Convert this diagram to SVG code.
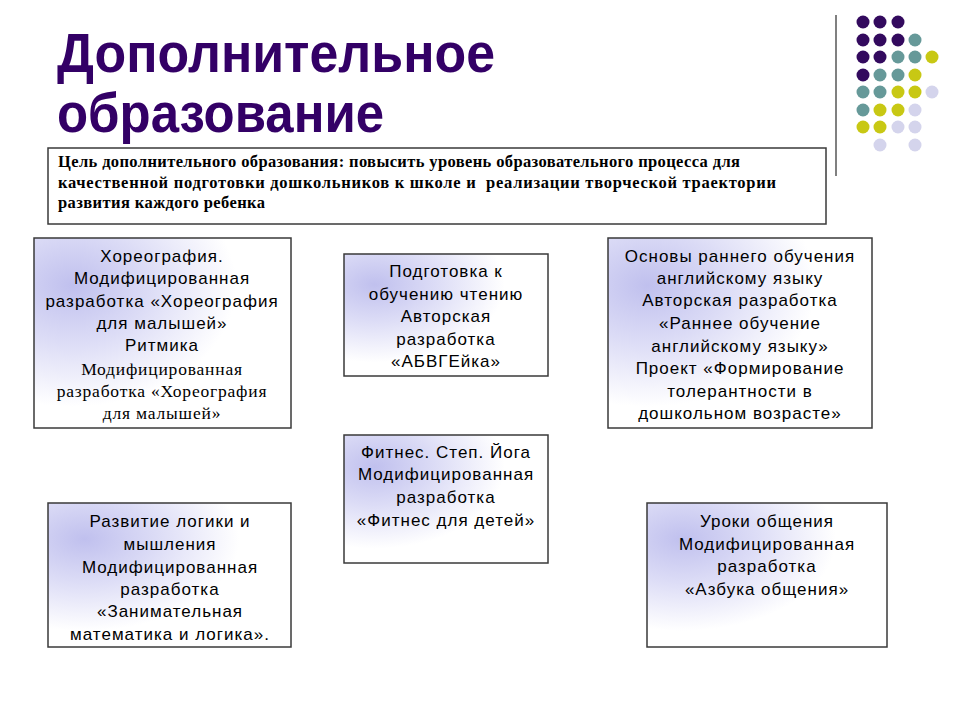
<svg xmlns="http://www.w3.org/2000/svg" width="960" height="720" viewBox="0 0 960 720">
<defs>
<radialGradient id="cloud" cx="0.15" cy="0.25" r="0.85" fx="0.15" fy="0.25">
<stop offset="0" stop-color="#c0c0ee"/>
<stop offset="0.35" stop-color="#dcdcf6"/>
<stop offset="0.75" stop-color="#ffffff"/>
<stop offset="1" stop-color="#ffffff"/>
</radialGradient>
</defs>
<style>
.title{font-family:"Liberation Sans",Arial,sans-serif;font-weight:bold;font-size:56px;fill:#330066}
.goal{font-family:"Liberation Serif","Times New Roman",serif;font-weight:bold;font-size:16.5px;fill:#000}
.box{fill:url(#cloud);stroke:#3a3a3a;stroke-width:1.5}
.plain{fill:#fff;stroke:#3a3a3a;stroke-width:1.5}
.t{font-family:"Liberation Sans",Arial,sans-serif;font-size:17px;letter-spacing:1px;fill:#000;text-anchor:middle}
.ts{font-family:"Liberation Serif","Times New Roman",serif;font-size:17.5px;letter-spacing:0.8px;fill:#000;text-anchor:middle}
.p{fill:#330a5e}.g{fill:#669999}.y{fill:#c8c814}.l{fill:#d4d4ec}
</style>
<rect width="960" height="720" fill="#fff"/>
<g id="decor">
<line x1="836" y1="15" x2="836" y2="176" stroke="#808080" stroke-width="2"/>
<circle class="p" cx="863" cy="22" r="6.5"/><circle class="p" cx="880" cy="22" r="6.5"/><circle class="p" cx="898" cy="22" r="6.5"/>
<circle class="p" cx="863" cy="40" r="6.5"/><circle class="p" cx="880" cy="40" r="6.5"/><circle class="p" cx="898" cy="40" r="6.5"/><circle class="g" cx="915" cy="40" r="6.5"/>
<circle class="p" cx="863" cy="57" r="6.5"/><circle class="p" cx="880" cy="57" r="6.5"/><circle class="g" cx="898" cy="57" r="6.5"/><circle class="g" cx="915" cy="57" r="6.5"/><circle class="y" cx="932" cy="57" r="6.5"/>
<circle class="p" cx="863" cy="75" r="6.5"/><circle class="g" cx="880" cy="75" r="6.5"/><circle class="g" cx="898" cy="75" r="6.5"/><circle class="y" cx="915" cy="75" r="6.5"/>
<circle class="g" cx="863" cy="92" r="6.5"/><circle class="g" cx="880" cy="92" r="6.5"/><circle class="y" cx="898" cy="92" r="6.5"/><circle class="y" cx="915" cy="92" r="6.5"/><circle class="l" cx="932" cy="92" r="6.5"/>
<circle class="g" cx="863" cy="110" r="6.5"/><circle class="y" cx="880" cy="110" r="6.5"/><circle class="y" cx="898" cy="110" r="6.5"/><circle class="l" cx="915" cy="110" r="6.5"/>
<circle class="y" cx="863" cy="127" r="6.5"/><circle class="y" cx="880" cy="127" r="6.5"/><circle class="l" cx="898" cy="127" r="6.5"/><circle class="l" cx="915" cy="127" r="6.5"/>
<circle class="l" cx="880" cy="145" r="6.5"/><circle class="l" cx="915" cy="145" r="6.5"/>
</g>
<g id="title">
<text class="title" x="57" y="72" textLength="438" lengthAdjust="spacingAndGlyphs">Дополнительное</text>
<text class="title" x="57" y="132" textLength="327" lengthAdjust="spacingAndGlyphs">образование</text>
</g>
<g id="goal">
<rect class="plain" x="48" y="148" width="778" height="76"/>
<text class="goal" x="58" y="167" textLength="682">Цель дополнительного образования: повысить уровень образовательного процесса для</text>
<text class="goal" x="58" y="188" textLength="718" xml:space="preserve">качественной подготовки дошкольников к школе и  реализации творческой траектории</text>
<text class="goal" x="58" y="208" textLength="207">развития каждого ребенка</text>
</g>
<g id="choreography">
<rect class="box" x="34" y="238" width="257" height="190"/>
<text class="t" x="162" y="262">Хореография.</text>
<text class="t" x="162" y="284">Модифицированная</text>
<text class="t" x="162" y="307">разработка «Хореография</text>
<text class="t" x="162" y="329">для малышей»</text>
<text class="t" x="162" y="351">Ритмика</text>
<text class="ts" x="162" y="375">Модифицированная</text>
<text class="ts" x="162" y="397">разработка «Хореография</text>
<text class="ts" x="162" y="419">для малышей»</text>
</g>
<g id="reading">
<rect class="box" x="344" y="254" width="204" height="122"/>
<text class="t" x="446" y="277">Подготовка к</text>
<text class="t" x="446" y="300">обучению чтению</text>
<text class="t" x="446" y="322">Авторская</text>
<text class="t" x="446" y="345">разработка</text>
<text class="t" x="446" y="367">«АБВГЕйка»</text>
</g>
<g id="english">
<rect class="box" x="608" y="238" width="264" height="190"/>
<text class="t" x="740" y="262">Основы раннего обучения</text>
<text class="t" x="740" y="284">английскому языку</text>
<text class="t" x="740" y="306">Авторская разработка</text>
<text class="t" x="740" y="329">«Раннее обучение</text>
<text class="t" x="740" y="352">английскому языку»</text>
<text class="t" x="740" y="374">Проект «Формирование</text>
<text class="t" x="740" y="397">толерантности в</text>
<text class="t" x="740" y="419">дошкольном возрасте»</text>
</g>
<g id="fitness">
<rect class="box" x="344" y="435" width="204" height="128"/>
<text class="t" x="446" y="458">Фитнес. Степ. Йога</text>
<text class="t" x="446" y="480">Модифицированная</text>
<text class="t" x="446" y="503">разработка</text>
<text class="t" x="446" y="526">«Фитнес для детей»</text>
</g>
<g id="logic">
<rect class="box" x="48" y="503" width="243" height="144"/>
<text class="t" x="170" y="527">Развитие логики и</text>
<text class="t" x="170" y="550">мышления</text>
<text class="t" x="170" y="573">Модифицированная</text>
<text class="t" x="170" y="595">разработка</text>
<text class="t" x="170" y="617">«Занимательная</text>
<text class="t" x="170" y="640">математика и логика».</text>
</g>
<g id="communication">
<rect class="box" x="647" y="503" width="240" height="144"/>
<text class="t" x="767" y="527">Уроки общения</text>
<text class="t" x="767" y="550">Модифицированная</text>
<text class="t" x="767" y="572">разработка</text>
<text class="t" x="767" y="595">«Азбука общения»</text>
</g>
<g id="connectors"></g>
</svg>
